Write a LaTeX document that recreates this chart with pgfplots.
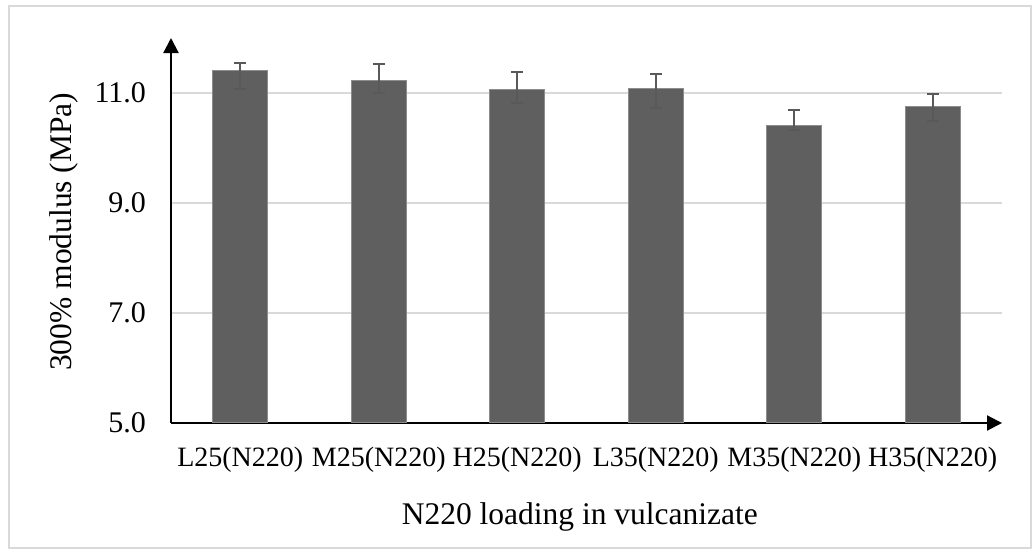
\documentclass[border=0pt]{standalone}
\usepackage{pgfplots}
\pgfplotsset{compat=1.18}
\usepackage{pgfplotstable}
\usepackage{fontspec}
\setmainfont{Liberation Serif}
\usetikzlibrary{arrows.meta}
\definecolor{barfill}{HTML}{5F5F5F}
\definecolor{baredge}{HTML}{8C8C8C}
\definecolor{errc}{HTML}{595959}
\definecolor{gridc}{HTML}{D9D9D9}
\definecolor{framec}{HTML}{D9D9D9}
\pgfplotstableread{
x y ep em
0 11.40 0.151 0.326
1 11.22 0.314 0.229
2 11.07 0.314 0.254
3 11.08 0.272 0.344
4 10.41 0.272 0.085
5 10.76 0.223 0.278
}\datatable
\begin{document}
\begin{tikzpicture}
\path (0,0) rectangle (516pt,275.5pt);
\draw[framec, line width=0.8pt] (4.5pt,1.5pt) rectangle (515.5pt,272.5pt);
\begin{axis}[
  at={(85.5pt,64pt)}, anchor=south west,
  scale only axis, width=415.5pt, height=192.5pt,
  xmin=-0.5, xmax=5.5, ymin=5, ymax=12,
  axis lines=left,
  axis line style={black, line width=1.1pt, -{Triangle[length=7.5pt,width=7.5pt]}},
  xtick=data,
  xticklabels={L25(N220),M25(N220),H25(N220),L35(N220),M35(N220),H35(N220)},
  ytick={5,7,9,11},
  yticklabel={\pgfmathprintnumber[fixed,fixed zerofill,precision=1]{\tick}},
  /pgf/number format/assume math mode=true,
  major tick length=0pt,
  ymajorgrids, grid style={gridc, line width=0.8pt},
  yticklabel style={font=\fontsize{15}{18}\selectfont, xshift=-9pt},
  xticklabel style={font=\fontsize{14}{17}\selectfont, yshift=-8.5pt},
  label style={font=\fontsize{15.75}{18}\selectfont},
  xlabel={N220 loading in vulcanizate},
  ylabel={300\% modulus (MPa)},
  xlabel style={at={(axis description cs:0.492,-0.243)}, anchor=center},
  ylabel style={at={(axis description cs:-0.129,0.497)}, anchor=center},
  clip=false,
]
\addplot[ybar, bar width=27.5pt, fill=barfill, draw=baredge, line width=0.5pt,
  error bars/.cd, y dir=both, y explicit,
  error bar style={errc, line width=1pt},
  error mark options={errc, line width=1pt, rotate=90, mark size=3pt}]
  table[x=x, y=y, y error plus=ep, y error minus=em] {\datatable};
\end{axis}
\end{tikzpicture}
\end{document}
